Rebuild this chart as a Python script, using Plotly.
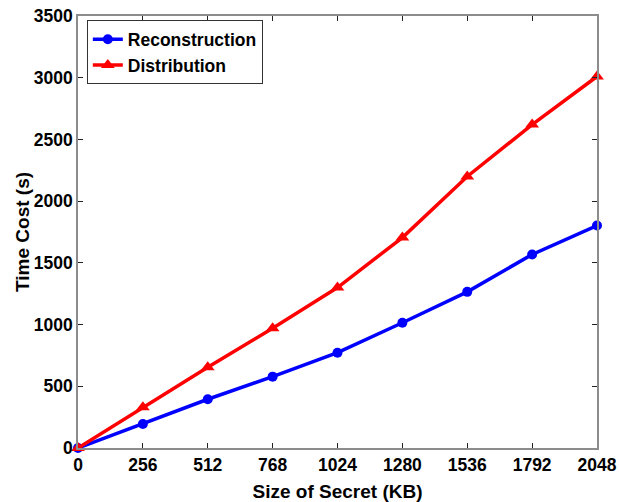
import plotly.graph_objects as go

sizes = [0, 256, 512, 768, 1024, 1280, 1536, 1792, 2048]
reconstruction = [0, 195, 395, 578, 772, 1015, 1265, 1568, 1802]
distribution = [0, 330, 655, 970, 1300, 1705, 2200, 2620, 3010]
tick_labels = [str(s) for s in sizes]

fig = go.Figure()
fig.add_trace(go.Scatter(x=sizes, y=reconstruction, mode="lines+markers", name="Reconstruction",
                         line=dict(color="#0000ff", width=3.5),
                         marker=dict(symbol="circle", size=10, color="#0000ff"),
                         cliponaxis=False))
fig.add_trace(go.Scatter(x=sizes, y=distribution, mode="lines+markers", name="Distribution",
                         line=dict(color="#ff0000", width=3.5),
                         marker=dict(symbol="triangle-up", size=12, color="#ff0000"),
                         cliponaxis=False))

font_family = "Liberation Sans, Arial, sans-serif"
axis_common = dict(showgrid=False, zeroline=False, showline=True, linecolor="#8c8c8c", linewidth=1.5,
                   mirror="ticks", ticks="inside", ticklen=5, tickcolor="#222222", tickwidth=1,
                   automargin=False, ticklabeloverflow="allow",
                   tickfont=dict(family=font_family, size=17.5, color="black", weight="bold"))

fig.update_layout(
    width=619, height=502,
    margin=dict(l=78, r=22, t=16, b=54),
    paper_bgcolor="white", plot_bgcolor="white",
    font=dict(family=font_family, color="black"),
    xaxis=dict(range=[0, 2048], tickvals=sizes, ticktext=tick_labels,
               title=dict(text="Size of Secret (KB)",
                          font=dict(family=font_family, size=19, color="black", weight="bold")),
               **axis_common),
    yaxis=dict(range=[0, 3500], dtick=500, tick0=0, **axis_common),
    annotations=[dict(text="Time Cost (s)", xref="paper", yref="paper", x=-0.108, y=0.5,
                      xanchor="center", yanchor="middle", textangle=-90, showarrow=False,
                      font=dict(family=font_family, size=19, color="black", weight="bold"))],
    legend=dict(x=0.017, y=0.99, xanchor="left", yanchor="top",
                bordercolor="#333333", borderwidth=1, bgcolor="white",
                font=dict(family=font_family, size=17.5, color="black", weight="bold"),
                itemwidth=30, tracegroupgap=0),
    showlegend=True,
)

# remove the default page margin so the figure fills the window exactly
fig.write_html("out.html", config={"displayModeBar": False},
               post_script="document.body.style.margin='0';")
